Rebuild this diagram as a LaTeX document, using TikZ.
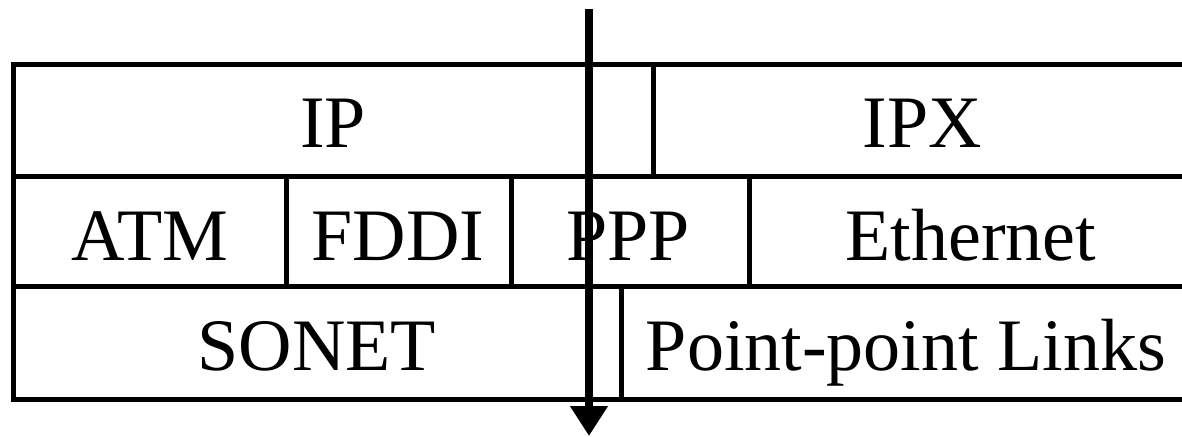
\documentclass[tikz,border=0pt]{standalone}
\usepackage{fontspec}
\setmainfont{Liberation Serif}
\usetikzlibrary{arrows.meta}
\begin{document}
\begin{tikzpicture}[x=1pt,y=-1pt,
  gridline/.style={line width=5pt,line join=miter,black},
  label/.style={font=\fontsize{74}{80}\selectfont,anchor=base,inner sep=0pt},
  flow/.style={line width=8pt,black,-{Triangle[length=30pt,width=36pt]}}]
\useasboundingbox (0,0) rectangle (1182,436);
% outer frame and row separators
\draw[gridline] (1210,64) -- (13,64) -- (13,399) -- (1210,399);
\draw[gridline] (13,176) -- (1210,176);
\draw[gridline] (13,286) -- (1210,286);
% cell dividers
\draw[gridline] (653,64) -- (653,176);
\draw[gridline] (286,176) -- (286,286);
\draw[gridline] (511,176) -- (511,286);
\draw[gridline] (749,176) -- (749,286);
\draw[gridline] (621,286) -- (621,399);
% labels
\node[label] (ip) at (333,147) {IP};
\node[label] (ipx) at (922,147) {IPX};
\node[label] (atm) at (150,260) {ATM};
\node[label] (fddi) at (398,260) {FDDI};
\node[label] (ppp) at (628,260) {PPP};
\node[label] (eth) at (971,260) {Ethernet};
\node[label] (sonet) at (317,370) {SONET};
\node[label] (ppl) at (906,370) {Point-point Links};
% arrow
\coordinate (atop) at (589,9);
\coordinate (abot) at (589,436);
\draw[flow] (atop) -- (abot);
\end{tikzpicture}
\end{document}
